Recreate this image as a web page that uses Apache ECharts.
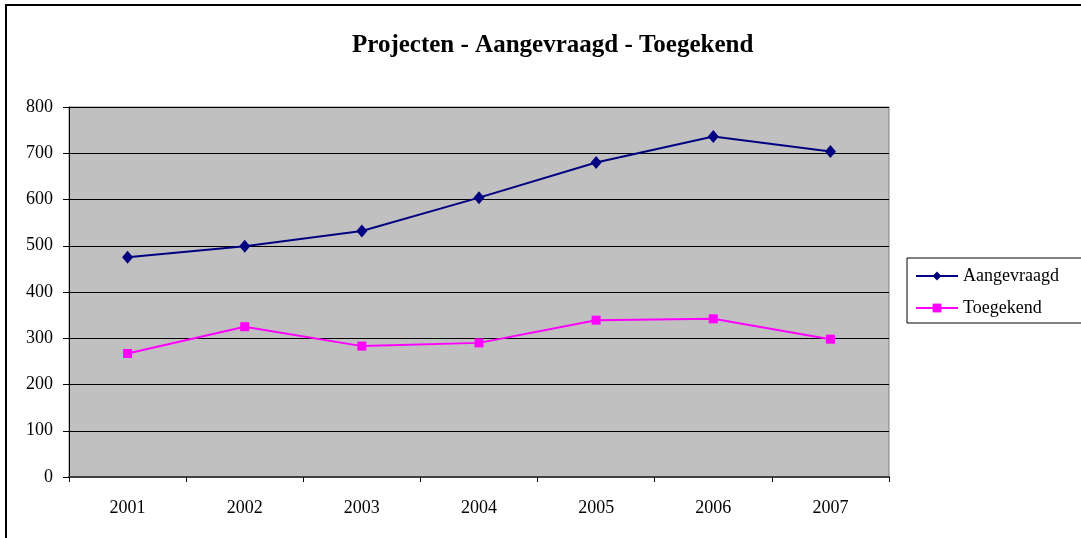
<!DOCTYPE html>
<html>
<head>
<meta charset="utf-8">
<title>Projecten - Aangevraagd - Toegekend</title>
<script src="https://cdn.jsdelivr.net/npm/echarts@6/dist/echarts.min.js"></script>
<style>
  html, body { margin: 0; padding: 0; background: #fff; }
  #chart { width: 1081px; height: 538px; }
</style>
</head>
<body>
<div id="chart"></div>
<script>
// data
var years = ['2001', '2002', '2003', '2004', '2005', '2006', '2007'];
var aangevraagd = [475, 499, 532, 604, 680, 736, 704];
var toegekend = [267, 325, 283, 290, 339, 342, 298];

var serif = '"Liberation Serif", "Times New Roman", serif';

var chartDom = document.getElementById('chart');
var myChart = echarts.init(chartDom);
var option;

option = {
  backgroundColor: '#fff',
  animation: false,
  title: {
    text: 'Projecten - Aangevraagd - Toegekend',
    left: 347,
    top: 28,
    textStyle: { fontFamily: serif, fontSize: 25, fontWeight: 'bold', color: '#000' }
  },
  // outer chart frame (only top and left edges are in view)
  graphic: [
    {
      type: 'rect',
      shape: { x: 6, y: 5, width: 1200, height: 700 },
      style: { fill: 'none', stroke: '#000', lineWidth: 2 },
      silent: true
    }
  ],
  legend: {
    orient: 'vertical',
    left: 907,
    top: 258,
    padding: [9, 40, 6, 8],
    itemGap: 14,
    itemWidth: 42,
    itemHeight: 11,
    borderColor: '#000',
    borderWidth: 1,
    textStyle: { fontFamily: serif, fontSize: 18, color: '#000' },
    data: ['Aangevraagd', 'Toegekend']
  },
  grid: {
    left: 69,
    top: 107,
    right: 192,
    bottom: 61,
    show: true,
    backgroundColor: '#c0c0c0',
    borderColor: '#808080',
    borderWidth: 1
  },
  xAxis: {
    type: 'category',
    data: years,
    boundaryGap: true,
    axisLine: { lineStyle: { color: '#404040', width: 2 } },
    axisTick: { show: true, length: 5, lineStyle: { color: '#000' } },
    axisLabel: { fontFamily: serif, fontSize: 18, color: '#000', margin: 22 }
  },
  yAxis: {
    type: 'value',
    min: 0,
    max: 800,
    interval: 100,
    axisLine: { show: true, lineStyle: { color: '#000', width: 1 } },
    axisTick: { show: true, length: 6, lineStyle: { color: '#000' } },
    axisLabel: { fontFamily: serif, fontSize: 18, color: '#000', margin: 16 },
    splitLine: { lineStyle: { color: '#000', width: 1 } }
  },
  series: [
    {
      name: 'Aangevraagd',
      type: 'line',
      data: aangevraagd,
      symbol: 'diamond',
      symbolSize: [11, 13],
      color: '#000080',
      lineStyle: { color: '#000080', width: 2 },
      itemStyle: { color: '#000080' }
    },
    {
      name: 'Toegekend',
      type: 'line',
      data: toegekend,
      symbol: 'rect',
      symbolSize: 9,
      color: '#ff00ff',
      lineStyle: { color: '#ff00ff', width: 2 },
      itemStyle: { color: '#ff00ff' }
    }
  ]
};

if (option && typeof option === 'object') {
  myChart.setOption(option);
}
</script>
</body>
</html>
